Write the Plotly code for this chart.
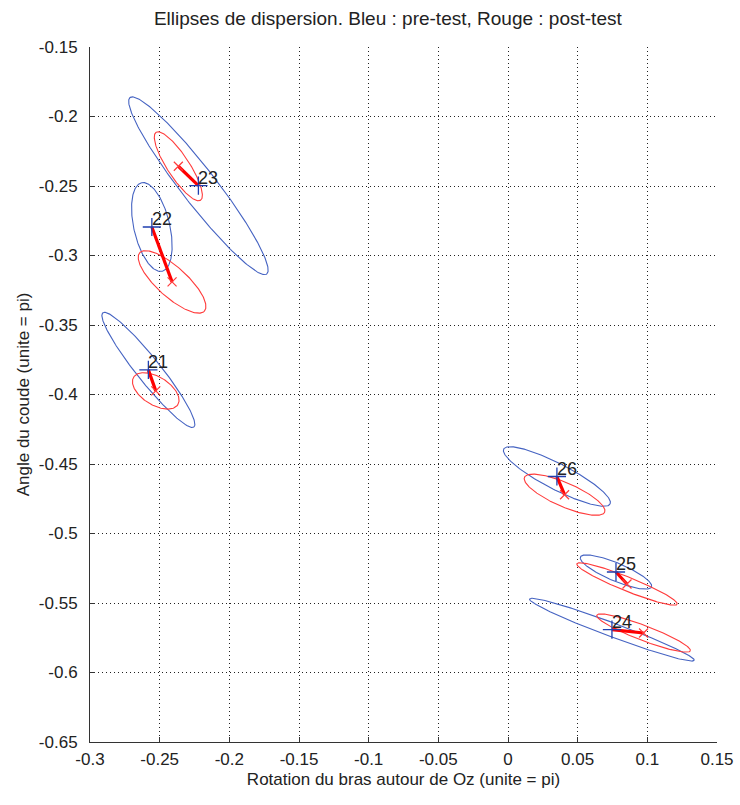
import numpy as np
import plotly.graph_objects as go

# ---------------- data ----------------
subjects = ["21", "22", "23", "24", "25", "26"]

# pre-test (blue) means
pre_x = [-0.2581, -0.2556, -0.2222, 0.0746, 0.0775, 0.0351]
pre_y = [-0.3823, -0.2795, -0.2498, -0.5692, -0.5277, -0.4590]
# post-test (red) means
post_x = [-0.2528, -0.2411, -0.2366, 0.0973, 0.0854, 0.0406]
post_y = [-0.3974, -0.3190, -0.2358, -0.5716, -0.5363, -0.4721]

# dispersion ellipses: semi-axes (data units) and orientation (degrees)
pre_a = [0.0525, 0.0327, 0.0802, 0.0631, 0.0277, 0.0430]
pre_b = [0.0086, 0.0129, 0.0126, 0.0050, 0.0065, 0.0093]
pre_ang = [-51.5, 103.0, -52.3, -20.5, -22.9, -27.4]
post_a = [0.0187, 0.0313, 0.0292, 0.0359, 0.0388, 0.0314]
post_b = [0.0101, 0.0108, 0.0079, 0.0054, 0.0050, 0.0086]
post_ang = [-32.0, -42.2, -56.9, -20.9, -22.0, -23.6]

x_ticks = [-0.3, -0.25, -0.2, -0.15, -0.1, -0.05, 0, 0.05, 0.1, 0.15]
x_tick_text = ["-0.3", "-0.25", "-0.2", "-0.15", "-0.1", "-0.05", "0", "0.05", "0.1", "0.15"]
y_ticks = [-0.65, -0.6, -0.55, -0.5, -0.45, -0.4, -0.35, -0.3, -0.25, -0.2, -0.15]
y_tick_text = ["-0.65", "-0.6", "-0.55", "-0.5", "-0.45", "-0.4", "-0.35", "-0.3", "-0.25", "-0.2", "-0.15"]

BLUE = "#4563c2"
RED = "#ff3b3b"
FONT = "Liberation Sans, Arial, sans-serif"

W, H = 740, 805


def ellipse(cx, cy, a, b, ang_deg, n=240):
    t = np.linspace(0, 2 * np.pi, n)
    th = np.deg2rad(ang_deg)
    x = cx + a * np.cos(t) * np.cos(th) - b * np.sin(t) * np.sin(th)
    y = cy + a * np.cos(t) * np.sin(th) + b * np.sin(t) * np.cos(th)
    return x, y


fig = go.Figure()

for i in range(len(subjects)):
    ex, ey = ellipse(pre_x[i], pre_y[i], pre_a[i], pre_b[i], pre_ang[i])
    fig.add_trace(go.Scatter(x=ex, y=ey, mode="lines",
                             line=dict(color=BLUE, width=1.1),
                             hoverinfo="skip", showlegend=False))
    ex, ey = ellipse(post_x[i], post_y[i], post_a[i], post_b[i], post_ang[i])
    fig.add_trace(go.Scatter(x=ex, y=ey, mode="lines",
                             line=dict(color=RED, width=1.1),
                             hoverinfo="skip", showlegend=False))

for i in range(len(subjects)):
    fig.add_trace(go.Scatter(x=[pre_x[i], post_x[i]], y=[pre_y[i], post_y[i]],
                             mode="lines", line=dict(color="#ff0000", width=3.2),
                             hoverinfo="skip", showlegend=False))

fig.add_trace(go.Scatter(x=pre_x, y=pre_y, mode="markers",
                         marker=dict(symbol="cross-thin", size=13,
                                     line=dict(color="#1f3fb0", width=1.3)),
                         showlegend=False))
fig.add_trace(go.Scatter(x=post_x, y=post_y, mode="markers",
                         marker=dict(symbol="x-thin", size=9,
                                     line=dict(color=RED, width=1.2)),
                         showlegend=False))

for i, s in enumerate(subjects):
    fig.add_annotation(x=pre_x[i], y=pre_y[i], text=s, showarrow=False,
                       xanchor="left", yanchor="middle", yshift=8, xshift=-2,
                       font=dict(family=FONT, size=18, color="#222"))

axis_common = dict(
    automargin=False,
    showgrid=True, gridcolor="#222", gridwidth=1, griddash="1px,3px",
    showline=True, linecolor="#333", linewidth=1, mirror=False,
    ticks="inside", ticklen=5, tickcolor="#333",
    zeroline=False, tickfont=dict(family=FONT, size=17, color="#222"),
)

fig.update_xaxes(range=[-0.3, 0.15], tickvals=x_ticks, ticktext=x_tick_text,
                 ticklabelstandoff=2,
                 title=dict(text="Rotation du bras autour de Oz (unite = pi)",
                            font=dict(family=FONT, size=17, color="#222"), standoff=4),
                 **axis_common)
fig.update_yaxes(range=[-0.65, -0.15], tickvals=y_ticks, ticktext=y_tick_text,
                 ticklabelstandoff=8,
                 title=dict(text="Angle du coude (unite = pi)",
                            font=dict(family=FONT, size=17, color="#222"), standoff=4),
                 **axis_common)

fig.update_layout(
    width=W, height=H,
    margin=dict(l=90, r=W - 717, t=47, b=H - 742),
    plot_bgcolor="white", paper_bgcolor="white",
    title=dict(text="Ellipses de dispersion. Bleu : pre-test, Rouge : post-test",
               x=0.475, xref="paper", xanchor="center",
               y=1 - 18 / H, yref="container", yanchor="middle",
               font=dict(family=FONT, size=19, color="#222")),
    showlegend=False,
)

fig.write_html(
    "out.html",
    config={"displayModeBar": False},
    post_script="document.body.style.margin='0';"
                "document.documentElement.style.overflow='hidden';",
)
